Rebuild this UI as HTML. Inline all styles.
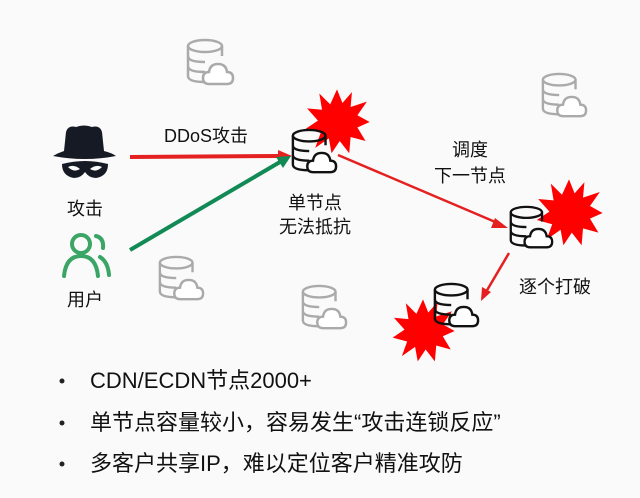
<!DOCTYPE html>
<html><head><meta charset="utf-8"><style>
html,body{margin:0;padding:0;background:#fafafa;}
svg{display:block;}
text{font-family:"Liberation Sans","Noto Sans CJK SC",sans-serif;fill:#111;}
</style></head><body>
<svg width="640" height="498" viewBox="0 0 640 498" xmlns="http://www.w3.org/2000/svg">
<defs>
<symbol id="db" viewBox="0 0 50 50">
  <ellipse cx="20" cy="8" rx="17" ry="6" fill="none" stroke="currentColor" stroke-width="2.5"/>
  <path d="M3 8 V38 Q3 44 20 44 M3 18 Q3 24 20 24 M3 28 Q3 34 20 34" fill="none" stroke="currentColor" stroke-width="2.5"/>
  <path d="M37 8 V18" fill="none" stroke="currentColor" stroke-width="2.5"/>
  <path d="M24 46 Q18 46 18 40 Q18 34 24 34 Q25 26 33 26 Q41 26 42 34 Q48 34 48 40 Q48 46 42 46 Z" fill="#fff" stroke="currentColor" stroke-width="2.5"/>
</symbol>
<symbol id="star" viewBox="-50 -50 100 100">
  <polygon fill="#f00" points="0,-48 8,-28 22,-44 20,-22 44,-30 30,-10 48,0 30,8 42,28 20,22 18,46 4,28 -8,46 -12,24 -32,38 -24,16 -46,10 -28,-2 -44,-20 -22,-18 -26,-42 -10,-26"/>
</symbol>
</defs>

<!-- gray nodes -->
<use href="#db" x="185" y="38" width="50" height="50" color="#aaa"/>
<use href="#db" x="540" y="72" width="48" height="48" color="#aaa"/>
<use href="#db" x="157" y="255" width="48" height="48" color="#aaa"/>
<use href="#db" x="300" y="284" width="48" height="48" color="#aaa"/>

<!-- bursts -->
<use href="#star" x="303" y="88" width="68" height="68"/>
<use href="#star" x="534" y="178" width="70" height="70"/>
<use href="#star" x="390" y="298" width="66" height="66"/>

<!-- main nodes -->
<use href="#db" x="290" y="128" width="48" height="48" color="#111"/>
<use href="#db" x="508" y="205" width="46" height="46" color="#111"/>
<use href="#db" x="432" y="282" width="48" height="48" color="#111"/>

<!-- hacker -->
<g fill="#151a24">
  <path d="M66 132 Q68 125 76 127 Q84 124 92 127 Q100 125 102 132 L104 151 Q112 153 116 156 Q85 162 53 156 Q58 153 64 151 Z"/>
  <path d="M62 164 Q85 158 108 164 Q108 176 96 178 Q89 178 85 172 Q81 178 74 178 Q62 176 62 164 Z"/>
</g>
<path d="M68 167 Q74 164 80 169 Q74 173 68 167 Z M90 169 Q96 164 102 167 Q96 173 90 169 Z" fill="#fafafa"/>
<!-- user -->
<g fill="none" stroke="#3aa564" stroke-width="4" stroke-linecap="round">
  <circle cx="81" cy="244" r="9"/>
  <path d="M64 276 Q66 256 81 256 Q96 256 98 276"/>
  <path d="M96 236 Q104 238 103 248 M100 257 Q108 262 109 275"/>
</g>

<!-- connectors -->
<line x1="130" y1="157" x2="280" y2="156" stroke="#e52020" stroke-width="4"/>
<polygon points="292,156 278,150 278,162" fill="#e52020"/>
<line x1="130" y1="250" x2="280" y2="162" stroke="#128a55" stroke-width="4"/>
<polygon points="291,156 276,157 283,168" fill="#128a55"/>
<line x1="338" y1="155" x2="500" y2="224" stroke="#e52020" stroke-width="2.5"/>
<polygon points="508,228 495,218 491,228" fill="#e52020"/>
<line x1="509" y1="253" x2="486" y2="292" stroke="#e52020" stroke-width="2.5"/>
<polygon points="481,301 482,287 491,292" fill="#e52020"/>

<!-- labels -->
<g font-size="18" text-anchor="middle">
<text x="206" y="142">DDoS攻击</text>
<text x="85" y="215">攻击</text>
<text x="85" y="306">用户</text>
<text x="315" y="209">单节点</text>
<text x="315" y="233">无法抵抗</text>
<text x="470" y="156">调度</text>
<text x="470" y="182">下一节点</text>
<text x="555" y="293">逐个打破</text>
</g>

<g font-size="22">
<circle cx="62" cy="381" r="2.5" fill="#222"/>
<text x="90" y="388">CDN/ECDN节点2000+</text>
<circle cx="62" cy="423" r="2.5" fill="#222"/>
<text x="90" y="430">单节点容量较小，容易发生“攻击连锁反应”</text>
<circle cx="62" cy="464" r="2.5" fill="#222"/>
<text x="90" y="471">多客户共享IP，难以定位客户精准攻防</text>
</g>
</svg>
</body></html>
